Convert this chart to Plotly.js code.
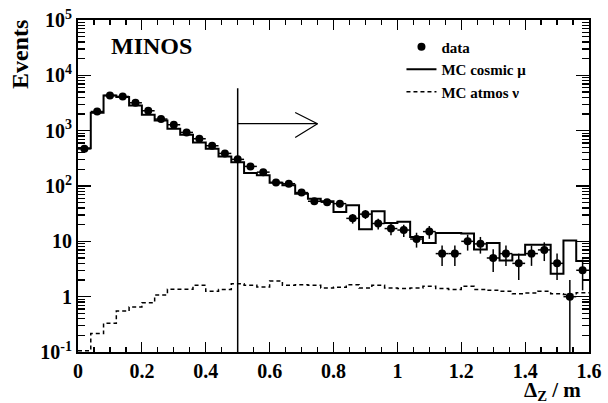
<!DOCTYPE html>
<html>
<head>
<meta charset="utf-8">
<script src="https://cdn.plot.ly/plotly-3.0.1.min.js"></script>
<style>html,body{margin:0;padding:0;background:#fff;}#chart{width:608px;height:403px;}</style>
</head>
<body>
<div id="chart"></div>
<script>
// Bin edges of the Delta_Z histogram (m)
const binEdges = [0.00,0.04,0.08,0.12,0.16,0.20,0.24,0.28,0.32,0.36,0.40,0.44,0.48,0.52,0.56,0.60,0.64,0.68,0.72,0.76,0.80,
                  0.84,0.88,0.92,0.96,1.00,1.04,1.08,1.12,1.16,1.20,1.24,1.28,1.32,1.36,1.40,1.44,1.48,1.52,1.56,1.60];
// Bin centres for data points
const binCenters = [0.02,0.06,0.10,0.14,0.18,0.22,0.26,0.30,0.34,0.38,0.42,0.46,0.50,0.54,0.58,0.62,0.66,0.70,0.74,0.78,
                    0.82,0.86,0.90,0.94,0.98,1.02,1.06,1.10,1.14,1.18,1.22,1.26,1.30,1.34,1.38,1.42,1.46,1.50,1.54,1.58];
// Data counts
const dataCounts = [470,2220,4330,4150,3190,2290,1620,1280,930,714,534,388,303,226,178,116,110,76,53,51,
                    48,26,31,21,17,16,11,15,6,6,10,9,5,6,4,6,7,4,1,3];
// Statistical errors on data
const dataErr = [21.7,47.1,65.8,64.4,56.5,47.9,40.2,35.8,30.5,26.7,23.1,19.7,17.4,15.0,13.3,10.8,10.5,8.7,7.3,7.1,
                 6.9,5.1,5.6,4.6,4.1,4.0,3.3,3.9,2.4,2.4,3.2,3.0,2.2,2.4,2.0,2.4,2.6,2.0,1.0,1.7];
const binHalfWidth = 0.02;
// MC cosmic muon prediction per bin
const mcCosmic = [480,2100,4300,4040,2860,1940,1530,1080,844,613,472,343,270,171,156,115,103,72.6,59,53,
                  33.8,44.7,16.5,35,21.4,22.5,12,9.3,14.1,14.1,13.8,7.1,9.3,4.5,5.7,8.7,8.7,2.6,10.4,4.4];
// MC atmospheric neutrino prediction per bin
const mcAtmos = [0.105,0.215,0.33,0.55,0.65,0.78,1.07,1.36,1.36,1.6,1.25,1.35,1.72,1.6,1.49,1.92,1.6,1.65,1.6,1.43,
                 1.48,1.65,1.43,1.6,1.43,1.40,1.43,1.54,1.40,1.35,1.54,1.35,1.30,1.25,1.13,1.16,1.25,1.13,1.09,1.18];
// Cut marker (vertical line at cut, arrow pointing to accepted region)
const cutValue = 0.5;
const cutLineY = [0.1, 5870];
const arrowX = [0.5, 0.75];
const arrowY = 1335;
const arrowHeadX = [0.68, 0.75, 0.68];
const arrowHeadY = [2135, 1335, 755];
// Axis ticks
const yTickVals = [0.1, 1, 10, 100, 1000, 10000, 100000];
const yTickText = ['10<sup>-1</sup>', '1', '10', '10<sup>2</sup>', '10<sup>3</sup>', '10<sup>4</sup>', '10<sup>5</sup>'];
const xTickVals = [0, 0.2, 0.4, 0.6, 0.8, 1, 1.2, 1.4, 1.6];
const xTickText = ['0', '0.2', '0.4', '0.6', '0.8', '1', '1.2', '1.4', '1.6'];

// step-histogram helper: repeat last value so the final bin is closed
function stepY(vals) { return vals.concat([vals[vals.length - 1]]); }

const FONT = 'Liberation Serif, Times New Roman, serif';

const traces = [
  {
    x: binCenters, y: dataCounts, type: 'scatter', mode: 'markers', name: 'data',
    marker: {color: 'black', size: 8, symbol: 'circle'},
    error_y: {type: 'data', array: dataErr, visible: true, color: 'black', thickness: 1.5, width: 0},
    error_x: {type: 'constant', value: binHalfWidth, visible: true, color: 'black', thickness: 1.5, width: 0},
    hoverinfo: 'x+y'
  },
  {
    x: binEdges, y: stepY(mcCosmic), type: 'scatter', mode: 'lines', name: 'MC cosmic \u03bc',
    line: {color: 'black', width: 2, shape: 'hv'}
  },
  {
    x: binEdges, y: stepY(mcAtmos), type: 'scatter', mode: 'lines', name: 'MC atmos \u03bd',
    line: {color: 'black', width: 1.5, shape: 'hv', dash: '4px,3px'}
  },
  {
    x: [cutValue, cutValue], y: cutLineY, type: 'scatter', mode: 'lines', showlegend: false,
    line: {color: 'black', width: 1.5}, hoverinfo: 'skip'
  },
  {
    x: arrowX, y: [arrowY, arrowY], type: 'scatter', mode: 'lines', showlegend: false,
    line: {color: 'black', width: 1.2}, hoverinfo: 'skip'
  },
  {
    x: arrowHeadX, y: arrowHeadY, type: 'scatter', mode: 'lines', showlegend: false,
    line: {color: 'black', width: 1.2}, hoverinfo: 'skip'
  }
];

const layout = {
  width: 608, height: 403,
  margin: {l: 78, r: 19, t: 20, b: 51},
  paper_bgcolor: 'white', plot_bgcolor: 'white',
  font: {family: FONT, color: 'black', size: 20, weight: 700},
  showlegend: true,
  legend: {
    x: 0.633, y: 0.968, xanchor: 'left', yanchor: 'top',
    bgcolor: 'rgba(0,0,0,0)', borderwidth: 0,
    font: {family: FONT, size: 15, color: 'black', weight: 700},
    itemwidth: 30, tracegroupgap: 0
  },
  xaxis: {
    type: 'linear', range: [0, 1.6], autorange: false,
    tickmode: 'array', tickvals: xTickVals, ticktext: xTickText,
    ticks: 'inside', ticklen: 10, tickwidth: 1.2, tickcolor: 'black',
    minor: {ticks: 'inside', dtick: 0.05, ticklen: 5, tickwidth: 1.2, tickcolor: 'black', showgrid: false},
    showline: true, linewidth: 2, linecolor: 'black', mirror: 'ticks',
    showgrid: false, zeroline: false,
    tickfont: {family: FONT, size: 20, color: 'black', weight: 700}
  },
  yaxis: {
    type: 'log', range: [-1, 5], autorange: false,
    tickmode: 'array', tickvals: yTickVals, ticktext: yTickText,
    ticks: 'inside', ticklen: 13, tickwidth: 1.2, tickcolor: 'black',
    minor: {ticks: 'inside', dtick: 'D1', ticklen: 7, tickwidth: 1.2, tickcolor: 'black', showgrid: false},
    showline: true, linewidth: 2, linecolor: 'black', mirror: 'ticks',
    showgrid: false, zeroline: false,
    tickfont: {family: FONT, size: 20, color: 'black', weight: 700}
  },
  annotations: [
    {text: 'Events', xref: 'paper', yref: 'paper', x: -0.113, y: 1.005, xanchor: 'center', yanchor: 'top',
     textangle: -90, showarrow: false, font: {family: FONT, size: 24, color: 'black', weight: 700}},
    {text: '\u0394<sub>Z</sub> / m', xref: 'paper', yref: 'paper', x: 0.988, y: -0.116, xanchor: 'right', yanchor: 'middle',
     showarrow: false, font: {family: FONT, size: 21, color: 'black', weight: 700}},
    {text: 'MINOS', xref: 'paper', yref: 'paper', x: 0.143, y: 0.923, xanchor: 'center', yanchor: 'middle',
     showarrow: false, font: {family: FONT, size: 24, color: 'black', weight: 700}}
  ]
};

Plotly.newPlot('chart', traces, layout, {staticPlot: true, displayModeBar: false});
</script>
</body>
</html>
